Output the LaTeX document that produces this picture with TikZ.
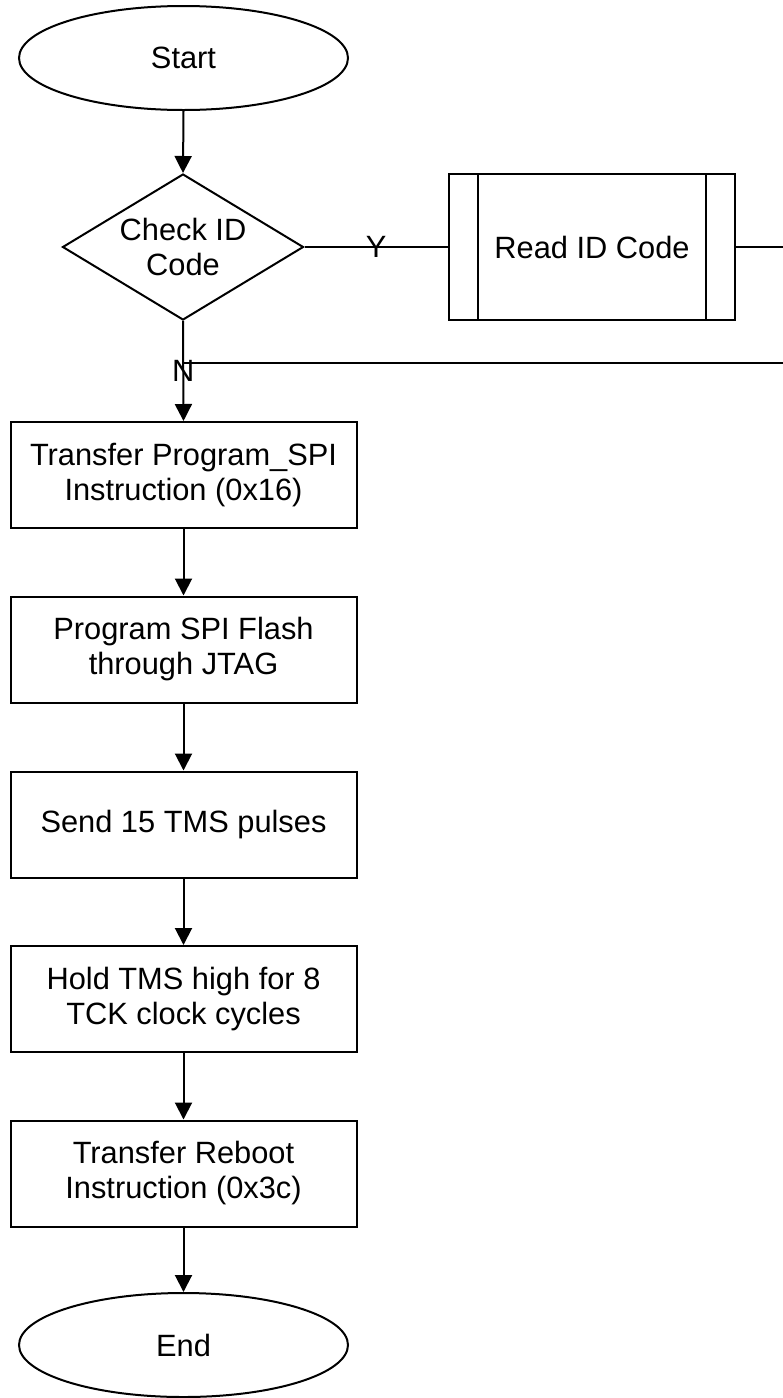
\documentclass[tikz,border=0pt]{standalone}
\usepackage{fontspec}
\setmainfont{Liberation Sans}
\usetikzlibrary{shapes.geometric,arrows.meta}
\begin{document}
\begin{tikzpicture}[x=1pt,y=-1pt,
  every node/.style={font=\fontsize{30.8}{35}\selectfont},
  ln/.style={line width=2pt},
  arr/.style={ln,-{Triangle[length=17pt,width=17pt]}},
  term/.style={draw,ln,ellipse,minimum width=329pt,minimum height=104pt,inner sep=0pt},
  proc/.style={draw,ln,rectangle,minimum width=346pt,minimum height=106pt,inner sep=0pt,align=center},
  decis/.style={draw,ln,diamond,minimum width=241pt,minimum height=146pt,inner sep=0pt},
  lbl/.style={inner sep=0pt}
]
\useasboundingbox (0,0) rectangle (783,1398);
\node[term] (start) at (183.5,58) {Start};
\node[decis] (dia) at (183,247) {};
\node[align=center] (diatext) at (183,247) {Check ID\\Code};
\node[draw,ln,rectangle,minimum width=286pt,minimum height=146pt,inner sep=0pt] (rid) at (592,247) {Read ID Code};
\draw[ln] ([xshift=30pt]rid.north west) -- ([xshift=30pt]rid.south west);
\draw[ln] ([xshift=-30pt]rid.north east) -- ([xshift=-30pt]rid.south east);
\node[proc] (b1) at (183.5,475) {Transfer Program\_SPI\\Instruction (0x16)};
\node[proc] (b2) at (183.5,649.5) {Program SPI Flash\\through JTAG};
\node[proc] (b3) at (183.5,824.5) {Send 15 TMS pulses};
\node[proc] (b4) at (183.5,999) {Hold TMS high for 8\\TCK clock cycles};
\node[proc] (b5) at (183.5,1173.5) {Transfer Reboot\\Instruction (0x3c)};
\node[term] (end) at (183.5,1345) {End};
\coordinate (re) at (790,247);
\coordinate (ne) at (790,363);
\coordinate (nj) at (183,363);
\draw[arr] (start.south) -- (dia.north);
\draw[ln] (dia.east) -- node[lbl]{Y} (rid.west);
\draw[ln] (rid.east) -- (re);
\draw[ln] (ne) -- (nj);
\draw[arr] (dia.south) -- node[lbl,pos=0.5]{N} (b1.north);
\draw[arr] (b1.south) -- (b2.north);
\draw[arr] (b2.south) -- (b3.north);
\draw[arr] (b3.south) -- (b4.north);
\draw[arr] (b4.south) -- (b5.north);
\draw[arr] (b5.south) -- (end.north);
\end{tikzpicture}
\end{document}
